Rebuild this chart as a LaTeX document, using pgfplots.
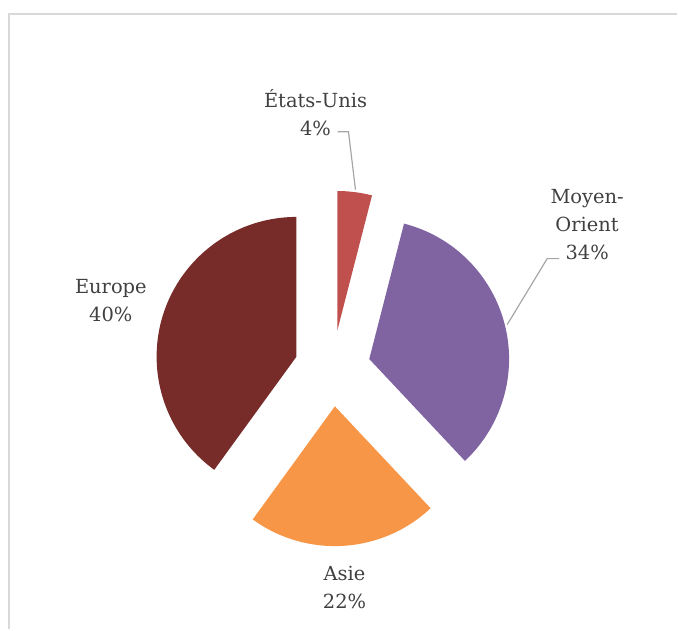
\documentclass[border=0pt]{standalone}
\usepackage{fontspec}
\setmainfont{DejaVu Serif}
\usepackage{pgfplots}
\pgfplotsset{compat=1.18}
\usepackage{pgfplotstable}

\definecolor{usred}{HTML}{C0504D}
\definecolor{meviolet}{HTML}{8064A2}
\definecolor{asorange}{HTML}{F79646}
\definecolor{eudark}{HTML}{772C2A}
\definecolor{txt}{HTML}{404040}
\definecolor{lead}{HTML}{A6A6A6}
\definecolor{frame}{HTML}{D9D9D9}

\tikzset{lbl/.style={font=\fontsize{14.6}{21}\selectfont, text=txt, align=center, inner sep=0pt}}

% share in %, clockwise from 12 o'clock
\pgfplotstableread{
name value col
US  4  usred
ME  34 meviolet
AS  22 asorange
EU  40 eudark
}\piedata

\begin{document}
\begin{tikzpicture}
\begin{axis}[
  x=0.75pt, y=0.75pt,
  xmin=0, xmax=678, ymin=0, ymax=630,
  hide axis, clip=false,
]
\pgfplotsextra{
  \path (axis cs:0,0) rectangle (axis cs:678,630);
  \draw[frame, line width=1.5pt] (axis cs:9,0) -- (axis cs:9,616) -- (axis cs:678,616);
  \gdef\cum{0}
  \foreach \i in {0,...,3}{
    \pgfplotstablegetelem{\i}{value}\of\piedata \let\v\pgfplotsretval
    \pgfplotstablegetelem{\i}{col}\of\piedata \let\c\pgfplotsretval
    \pgfmathsetmacro\aone{90-3.6*\cum}
    \pgfmathsetmacro\atwo{90-3.6*(\cum+\v)}
    \pgfmathsetmacro\amid{(\aone+\atwo)/2}
    \pgfmathsetmacro\px{333+38*cos(\amid)}
    \pgfmathsetmacro\py{261+38*sin(\amid)}
    \fill[\c] (axis cs:\px,\py) -- ++(\aone:105pt)
      arc[start angle=\aone, end angle=\atwo, radius=105pt] -- cycle;
    \pgfmathsetmacro\n{\cum+\v}\global\let\cum\n
  }
  \draw[lead, line width=0.9pt] (axis cs:338,498) -- (axis cs:349,498) -- (axis cs:356,440);
  \draw[lead, line width=0.9pt] (axis cs:560,371) -- (axis cs:548,371) -- (axis cs:508,305);
}
\node[lbl] at (axis cs:316,517) {États-Unis\\4\%};
\node[lbl] at (axis cs:588,405) {Moyen-\\Orient\\34\%};
\node[lbl] at (axis cs:111,329) {Europe\\40\%};
\node[lbl] at (axis cs:345,42) {Asie\\22\%};
\end{axis}
\end{tikzpicture}
\end{document}
